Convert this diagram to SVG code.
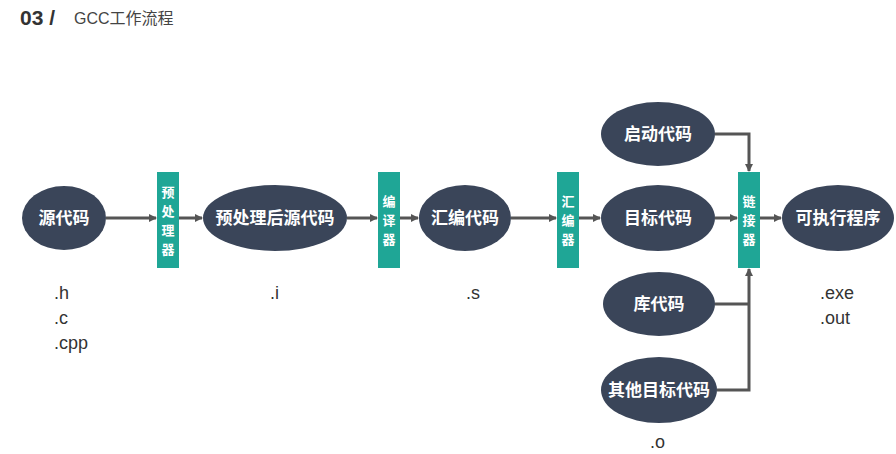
<svg xmlns="http://www.w3.org/2000/svg" width="896" height="454" viewBox="0 0 896 454">
<defs>
<marker id="ah" markerWidth="8" markerHeight="8" refX="7" refY="4" orient="auto" markerUnits="userSpaceOnUse"><path d="M0,0 L8,4 L0,8 z" fill="#555"/></marker>
<style>
.n{fill:#3a4559}
.b{fill:#1fa696}
.t{fill:#fff;font-family:"Noto Sans CJK SC",sans-serif;font-size:17px;font-weight:bold;text-anchor:middle}
.bt{fill:#fff;font-family:"Noto Sans CJK SC",sans-serif;font-size:13px;font-weight:bold;text-anchor:middle}
.s{fill:#333;font-family:"Liberation Sans",sans-serif;font-size:18px}
.c{stroke:#555;stroke-width:3;fill:none;marker-end:url(#ah)}
</style>
</defs>
<rect width="896" height="454" fill="#fff"/>
<text x="20" y="25" font-family="Liberation Sans,sans-serif" font-size="21" font-weight="bold" fill="#333">03 /</text>
<text x="74" y="24" font-family="Liberation Sans,'Noto Sans CJK SC',sans-serif" font-size="16" fill="#444">GCC工作流程</text>
<g id="connectors">
<line class="c" x1="106" y1="218" x2="156" y2="218"/>
<line class="c" x1="179" y1="218" x2="202" y2="218"/>
<line class="c" x1="347" y1="218" x2="377" y2="218"/>
<line class="c" x1="400" y1="218" x2="418" y2="218"/>
<line class="c" x1="511" y1="218" x2="556" y2="218"/>
<line class="c" x1="579" y1="218" x2="600" y2="218"/>
<line class="c" x1="715" y1="218" x2="737" y2="218"/>
<line class="c" x1="760" y1="218" x2="781" y2="218"/>
<polyline class="c" points="715,134 749,134 749,171"/>
<polyline class="c" points="717,390 749,390 749,269"/>
<line stroke="#555" stroke-width="3" x1="715" y1="304" x2="749" y2="304"/>
</g>
<g id="src"><ellipse class="n" cx="64" cy="218" rx="42" ry="32"/><text class="t" x="64" y="224">源代码</text></g>
<g id="pre"><rect class="b" x="157" y="172" width="22" height="96"/><text class="bt" x="168" y="197">预</text><text class="bt" x="168" y="216">处</text><text class="bt" x="168" y="235">理</text><text class="bt" x="168" y="254">器</text></g>
<g id="presrc"><ellipse class="n" cx="275" cy="218" rx="72" ry="33"/><text class="t" x="275" y="224">预处理后源代码</text></g>
<g id="cc"><rect class="b" x="378" y="172" width="22" height="96"/><text class="bt" x="389" y="206">编</text><text class="bt" x="389" y="225">译</text><text class="bt" x="389" y="244">器</text></g>
<g id="asm"><ellipse class="n" cx="465" cy="218" rx="46" ry="33"/><text class="t" x="465" y="224">汇编代码</text></g>
<g id="as"><rect class="b" x="557" y="172" width="22" height="96"/><text class="bt" x="568" y="206">汇</text><text class="bt" x="568" y="225">编</text><text class="bt" x="568" y="244">器</text></g>
<g id="obj"><ellipse class="n" cx="658" cy="218" rx="57" ry="33"/><text class="t" x="658" y="224">目标代码</text></g>
<g id="start"><ellipse class="n" cx="658" cy="134" rx="57" ry="32"/><text class="t" x="658" y="140">启动代码</text></g>
<g id="lib"><ellipse class="n" cx="659" cy="304" rx="56" ry="32"/><text class="t" x="659" y="310">库代码</text></g>
<g id="other"><ellipse class="n" cx="659" cy="390" rx="58" ry="33"/><text class="t" x="659" y="396">其他目标代码</text></g>
<g id="ld"><rect class="b" x="738" y="172" width="22" height="96"/><text class="bt" x="749" y="206">链</text><text class="bt" x="749" y="225">接</text><text class="bt" x="749" y="244">器</text></g>
<g id="exe"><ellipse class="n" cx="838" cy="218" rx="56" ry="33"/><text class="t" x="838" y="224">可执行程序</text></g>
<text class="s" x="54" y="299">.h</text>
<text class="s" x="54" y="324">.c</text>
<text class="s" x="54" y="349">.cpp</text>
<text class="s" x="270" y="299">.i</text>
<text class="s" x="466" y="299">.s</text>
<text class="s" x="820" y="299">.exe</text>
<text class="s" x="820" y="324">.out</text>
<text class="s" x="650" y="448">.o</text>
</svg>
